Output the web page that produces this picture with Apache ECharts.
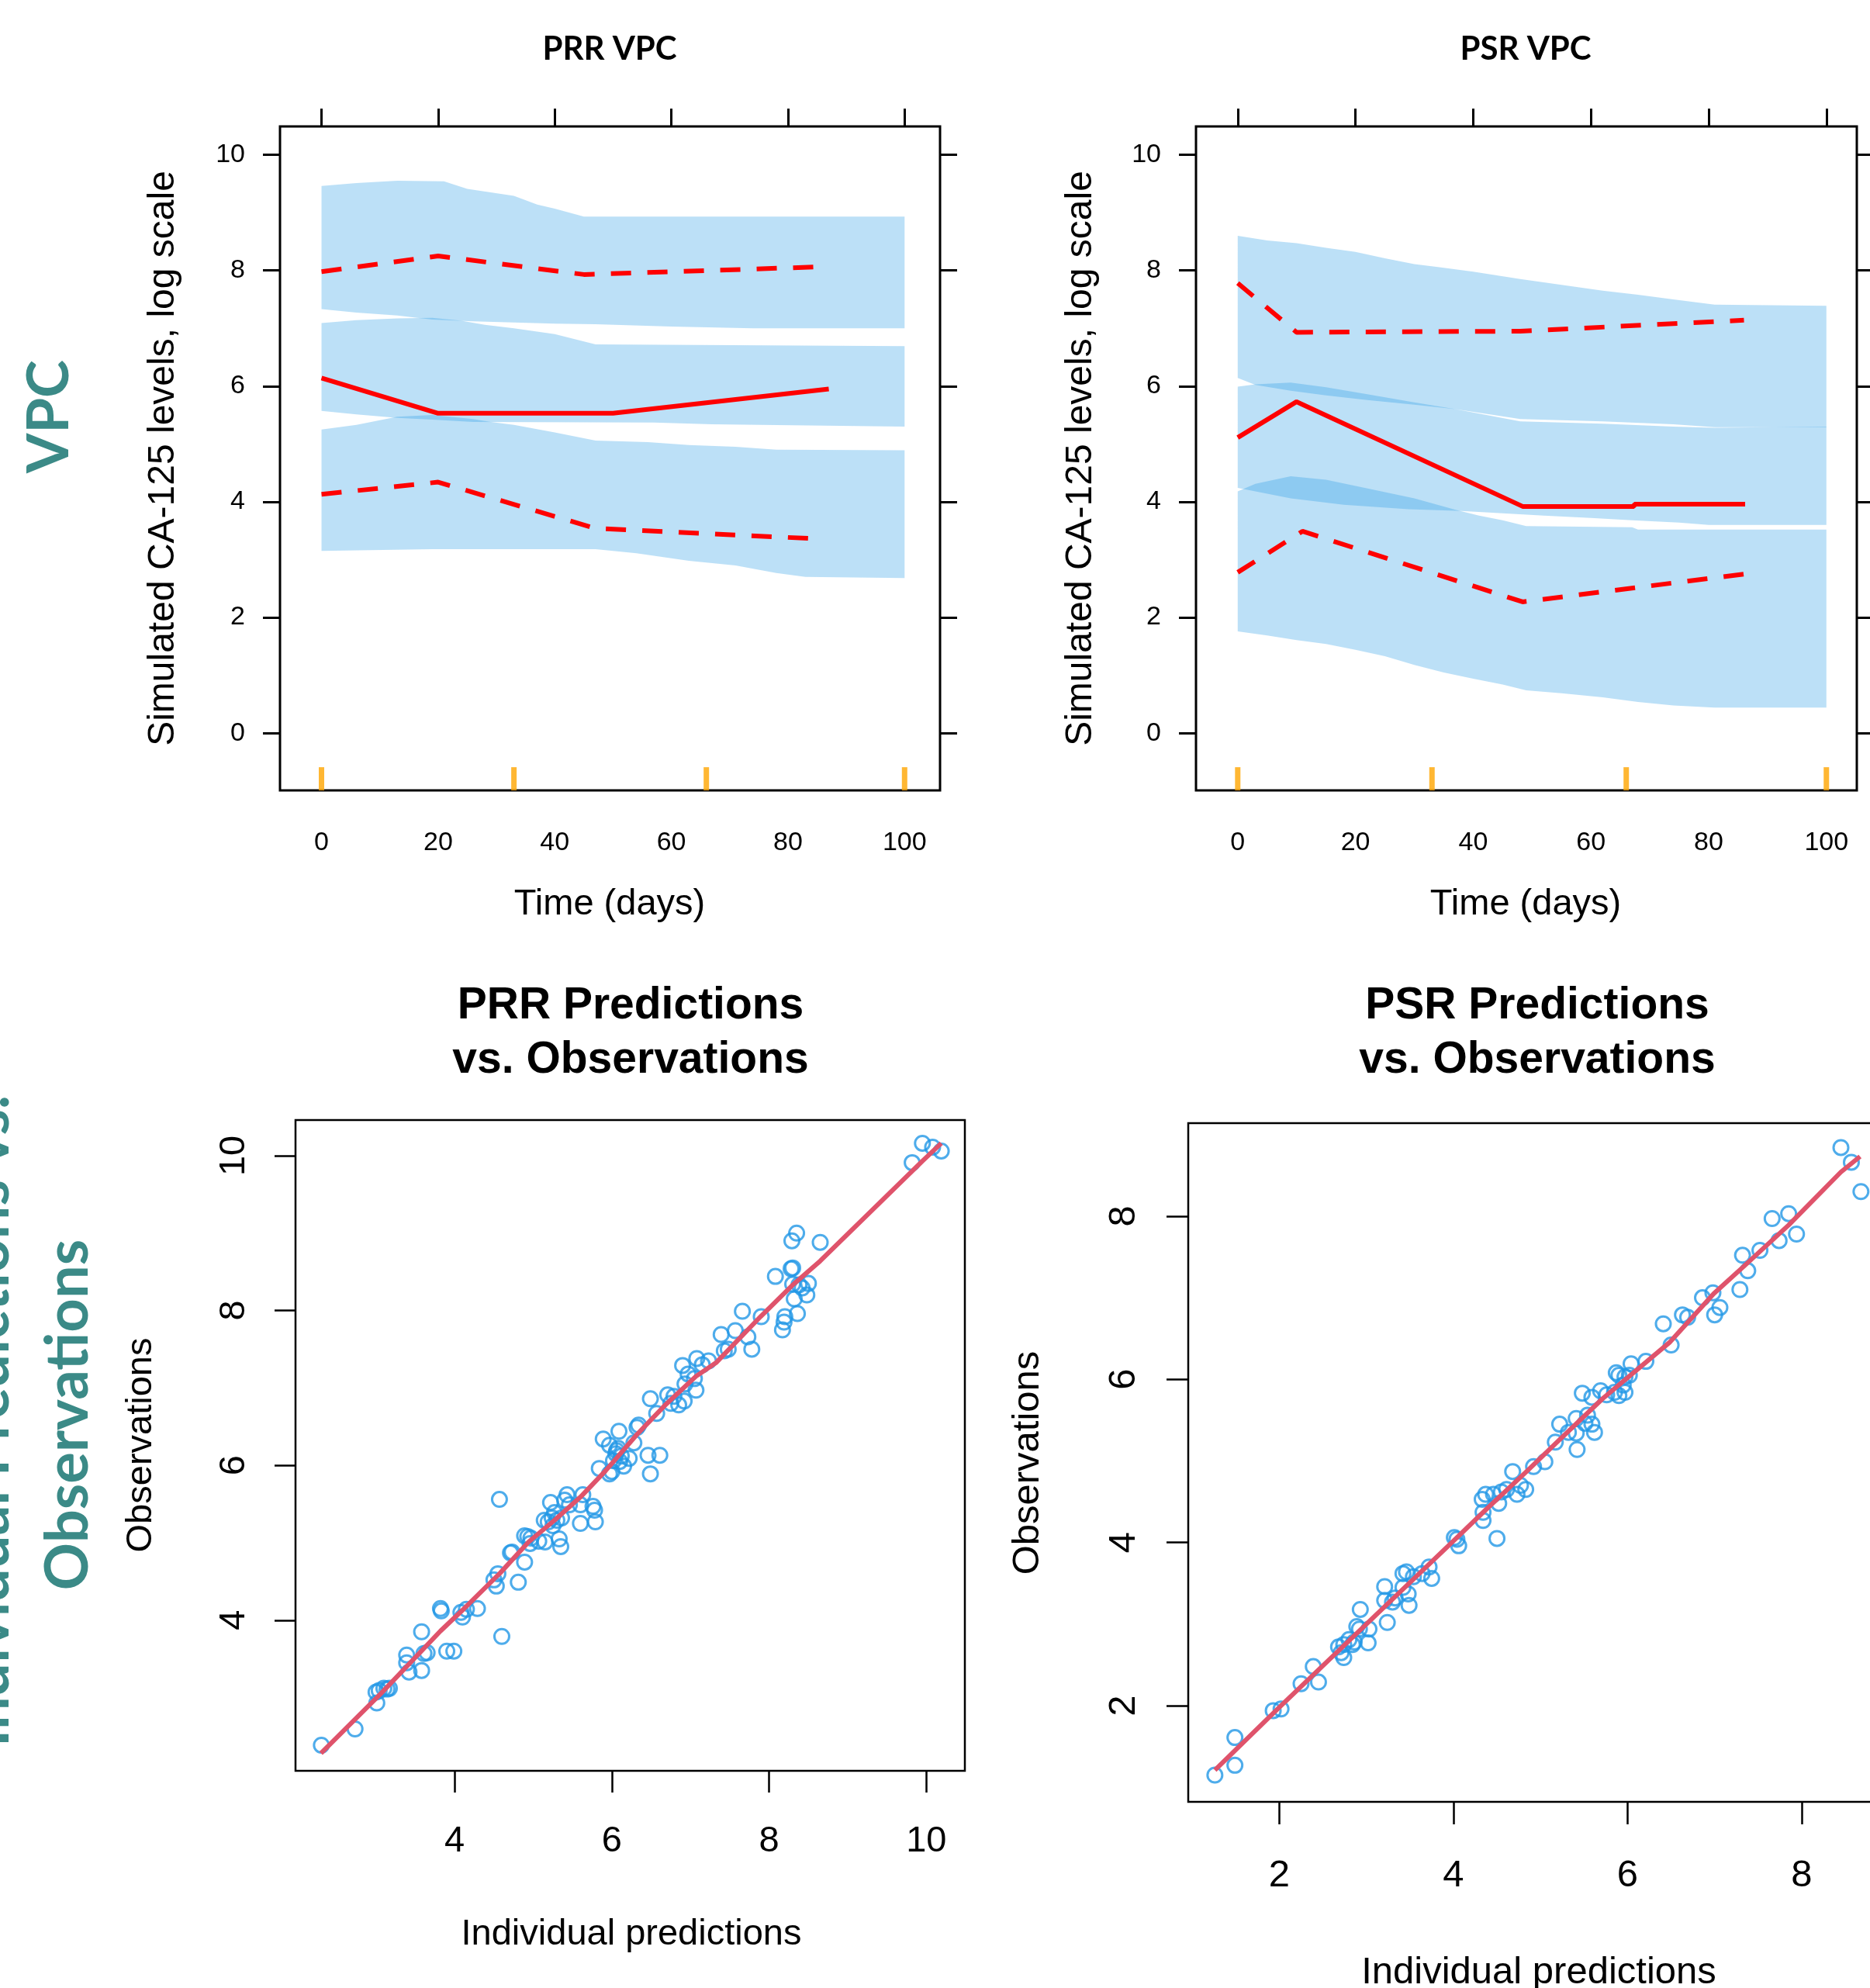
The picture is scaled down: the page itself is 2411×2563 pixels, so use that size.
<!DOCTYPE html>
<html>
<head>
<meta charset="utf-8">
<script src="https://cdn.jsdelivr.net/npm/echarts@6/dist/echarts.min.js"></script>
<style>
html,body{margin:0;padding:0;background:#fff;}
#chart{width:2411px;height:2563px;}
</style>
</head>
<body>
<div id="chart"></div>
<script>
// ---------- tick labels ----------
const vpcTicksX = [0, 20, 40, 60, 80, 100];
const vpcTicksY = [0, 2, 4, 6, 8, 10];
const prrScatterTicks = [4, 6, 8, 10];
const psrScatterTicks = [2, 4, 6, 8];
const binEdges = [0, 33, 66, 100];

// ---------- PRR VPC prediction-interval bands [time, value] ----------
const prrBandUpperTop = [[0,9.46],[6,9.51],[13,9.55],[21,9.54],[25,9.41],[33,9.29],[37,9.14],[40,9.07],[45,8.93],[100,8.93]];
const prrBandUpperBottom = [[0,7.33],[6,7.27],[13,7.22],[19,7.15],[26,7.12],[40,7.08],[47,7.07],[60,7.03],[74,7.0],[100,7.0]];
const prrBandMidTop = [[0,7.09],[6,7.14],[13,7.17],[19,7.18],[24,7.13],[28,7.06],[33,7.0],[40,6.9],[47,6.72],[100,6.69]];
const prrBandMidBottom = [[0,5.57],[6,5.51],[13,5.45],[19,5.42],[26,5.38],[57,5.37],[67,5.34],[100,5.30]];
const prrBandLowTop = [[0,5.25],[6,5.33],[13,5.47],[19,5.50],[26,5.43],[29,5.38],[33,5.33],[40,5.2],[47,5.06],[56,5.03],[63,4.98],[71,4.95],[78,4.9],[100,4.89]];
const prrBandLowBottom = [[0,3.15],[19,3.18],[47,3.18],[54,3.11],[63,2.98],[71,2.9],[78,2.77],[83,2.70],[100,2.68]];

// ---------- PSR VPC prediction-interval bands ----------
const psrBandUpperTop = [[0,8.60],[5,8.52],[10,8.47],[15,8.39],[20,8.32],[25,8.21],[30,8.11],[34,8.06],[40,7.98],[48,7.85],[55,7.75],[62,7.65],[68,7.58],[74,7.50],[81,7.41],[100,7.39]];
const psrBandUpperBottom = [[0,6.14],[3,6.02],[9,5.92],[15,5.84],[22,5.76],[30,5.68],[37,5.60],[48,5.43],[62,5.39],[74,5.34],[81,5.29],[100,5.29]];
const psrBandMidTop = [[0,5.99],[3,6.03],[9,6.06],[15,5.98],[22,5.86],[30,5.72],[37,5.60],[48,5.39],[62,5.35],[74,5.30],[81,5.28],[100,5.30]];
const psrBandMidBottom = [[0,4.24],[9,4.06],[18,3.95],[29,3.87],[38,3.84],[45,3.80],[52,3.76],[60,3.72],[67,3.68],[75,3.64],[80,3.60],[100,3.60]];
const psrBandLowTop = [[0,4.18],[3,4.31],[9,4.44],[15,4.38],[23,4.21],[30,4.06],[37,3.86],[41,3.76],[45,3.68],[49,3.58],[67,3.56],[68,3.52],[100,3.52]];
const psrBandLowBottom = [[0,1.76],[5,1.69],[10,1.61],[15,1.54],[20,1.44],[25,1.33],[30,1.18],[35,1.05],[40,0.94],[45,0.84],[49,0.74],[55,0.69],[62,0.62],[68,0.54],[74,0.48],[81,0.44],[100,0.44]];

// ---------- observed percentile lines ----------
const prrMedian = [[0,6.14],[20,5.53],[50,5.53],[87,5.95]];
const prrUpperPct = [[0,7.98],[20,8.25],[45,7.93],[85,8.06]];
const prrLowerPct = [[0,4.13],[20,4.34],[47,3.54],[85,3.36]];
const psrMedian = [[0,5.11],[10,5.73],[48.4,3.92],[67.3,3.92],[67.4,3.96],[86.2,3.96]];
const psrUpperPct = [[0,7.78],[10,6.93],[48,6.95],[86,7.14]];
const psrLowerPct = [[0,2.78],[11,3.49],[48.4,2.27],[86,2.75]];

// ---------- PRR individual predictions vs observations ----------
const prrPoints = [
[2.305,2.385],[2.733,2.595],[3.0,3.07],[3.04,3.09],[3.10,3.12],[3.14,3.11],[3.17,3.12],[3.01,2.93],
[3.39,3.55],[3.39,3.45],[3.42,3.33],[3.58,3.35],[3.58,3.85],[3.61,3.57],[3.65,3.58],
[3.90,3.60],[3.99,3.60],[3.82,4.15],[3.83,4.12],[4.08,4.10],[4.10,4.04],[4.15,4.14],[4.29,4.15],
[4.60,3.79],[4.57,5.56],[4.50,4.52],[4.55,4.60],[4.53,4.44],[4.81,4.49],[4.71,4.87],[4.73,4.88],[4.89,4.75],
[4.89,5.09],[4.93,5.08],[4.97,5.06],[5.07,5.02],[5.15,5.01],[4.96,4.99],
[5.22,5.52],[5.27,5.39],[5.19,5.27],[5.30,5.29],[5.36,5.32],[5.43,5.62],[5.40,5.55],[5.46,5.49],[5.63,5.62],[5.60,5.49],
[5.76,5.47],[5.78,5.42],[5.60,5.25],[5.79,5.27],[5.33,5.05],[5.35,4.95],[5.25,5.22],[5.14,5.29],[5.24,5.32],
[5.89,6.34],[6.09,6.44],[5.97,6.26],[6.06,6.19],[6.12,6.12],[6.02,6.06],[5.84,5.96],[5.97,5.89],[6.15,5.99],[6.22,6.09],
[6.32,6.49],[6.28,6.29],[6.05,6.15],[6.10,6.05],[6.0,5.92],[6.08,6.22],
[6.46,6.13],[6.61,6.13],[6.49,5.89],[6.57,6.67],[6.49,6.86],[6.34,6.52],
[6.71,6.91],[6.79,6.89],[6.85,6.78],[6.92,6.83],[6.75,6.80],
[6.90,7.29],[7.08,7.38],[7.23,7.35],[6.97,7.18],[7.15,7.30],[7.05,7.12],[6.93,7.05],[7.07,6.97],
[7.66,7.99],[7.90,7.92],[7.39,7.69],[7.57,7.74],[7.73,7.66],[7.78,7.50],[7.43,7.48],[7.48,7.50],
[8.35,9.0],[8.29,8.9],[8.65,8.88],[8.28,8.54],[8.30,8.55],[8.08,8.44],[8.30,8.34],[8.38,8.33],[8.42,8.29],[8.50,8.35],
[8.48,8.20],[8.32,8.15],[8.36,7.96],[8.20,7.92],[8.19,7.85],[8.17,7.75],
[9.95,10.16],[10.08,10.11],[10.19,10.06],[9.82,9.91]
];
const prrSmooth = [[2.3,2.28],[3.06,3.05],[3.82,3.86],[4.08,4.11],[4.58,4.61],[4.94,5.01],[5.27,5.29],[5.6,5.59],[5.92,5.93],[6.32,6.4],[6.67,6.77],[7.07,7.15],[7.33,7.33],[7.89,7.92],[8.29,8.32],[8.65,8.64],[9.95,9.93],[10.19,10.16]];

// ---------- PSR individual predictions vs observations ----------
const psrPoints = [
[1.26,1.15],[1.49,1.61],[1.49,1.27],[1.93,1.94],[2.02,1.96],[2.25,2.27],[2.39,2.48],[2.45,2.29],
[2.68,2.72],[2.74,2.75],[2.71,2.65],[2.74,2.59],[2.86,2.78],[2.89,2.97],[2.92,2.94],[2.93,3.18],[3.03,2.94],[3.02,2.77],[3.24,3.02],[2.80,2.81],[2.84,2.75],
[3.21,3.46],[3.21,3.29],[3.30,3.27],[3.42,3.62],[3.46,3.64],[3.42,3.45],[3.48,3.37],[3.49,3.23],[3.33,3.32],[3.64,3.62],[3.72,3.70],[3.75,3.56],[3.54,3.58],
[4.04,4.04],[4.06,3.96],[4.01,4.06],
[4.33,4.53],[4.37,4.59],[4.34,4.37],[4.34,4.27],[4.52,4.48],[4.55,4.62],[4.50,4.05],[4.46,4.59],[4.61,4.65],[4.73,4.59],
[4.68,4.87],[4.77,4.70],[4.83,4.65],[4.92,4.93],[5.05,4.99],
[5.54,5.56],[5.51,5.46],[5.41,5.52],[5.22,5.45],[5.32,5.35],[5.41,5.34],[5.62,5.35],[5.17,5.23],[5.42,5.14],[5.59,5.45],
[5.87,6.08],[5.90,6.05],[5.97,6.03],[6.02,6.05],[5.95,5.93],[5.85,5.84],[5.97,5.84],[5.76,5.81],[5.69,5.86],[5.48,5.83],[5.59,5.78],[5.90,5.80],
[6.21,6.22],[6.04,6.19],[6.41,6.68],[6.50,6.42],[6.63,6.79],[6.69,6.76],
[6.86,7.0],[6.98,7.06],[7.06,6.88],[7.0,6.79],[7.32,7.52],[7.52,7.58],[7.38,7.33],[7.29,7.10],
[7.66,7.97],[7.85,8.03],[7.74,7.70],[7.94,7.78],[8.45,8.84],[8.57,8.66],[8.68,8.30]
];
const psrSmooth = [[1.26,1.21],[2.0,1.98],[3.0,3.0],[4.0,4.02],[4.38,4.41],[4.83,4.86],[5.2,5.24],[5.71,5.76],[6.48,6.45],[6.99,7.05],[7.32,7.37],[7.85,7.89],[8.45,8.54],[8.67,8.73]];

// ---------- styling ----------
const BAND_FILL = 'rgba(34,151,230,0.3)';
const RED = '#FF0000';
const TEAL = '#3B8A87';
const PT_BLUE = '#2297E6';
const SMOOTH_RED = '#DF536B';

const prrBands = [[prrBandUpperTop, prrBandUpperBottom],[prrBandMidTop, prrBandMidBottom],[prrBandLowTop, prrBandLowBottom]];
const psrBands = [[psrBandUpperTop, psrBandUpperBottom],[psrBandMidTop, psrBandMidBottom],[psrBandLowTop, psrBandLowBottom]];

function bandSeries(bands, axisIdx) {
  return {
    type: 'custom', xAxisIndex: axisIdx, yAxisIndex: axisIdx, silent: true, z: 1,
    data: bands.map((b, i) => [i]),
    renderItem: function (params, api) {
      const b = bands[params.dataIndex];
      const pts = b[0].map(p => api.coord(p)).concat(b[1].slice().reverse().map(p => api.coord(p)));
      return { type: 'polygon', shape: { points: pts }, style: { fill: BAND_FILL } };
    }
  };
}
function redLine(data, axisIdx, dashed) {
  return {
    type: 'line', xAxisIndex: axisIdx, yAxisIndex: axisIdx, data: data, symbol: 'none', z: 3,
    lineStyle: { color: RED, width: 6, type: dashed ? [26, 21] : 'solid', cap: 'butt' }
  };
}
function binMarks(axisIdx) {
  return {
    type: 'scatter', xAxisIndex: axisIdx, yAxisIndex: axisIdx, z: 3,
    data: binEdges.map(x => [x, -0.79]), symbol: 'rect', symbolSize: [7, 30],
    itemStyle: { color: '#FFA500' }
  };
}

const vpcLabelFont = { fontFamily: 'Liberation Sans', fontSize: 34, color: '#000' };
const tickLine = { color: '#000', width: 3 };
const noLine = { show: false, onZero: false };

function vpcX(gridIndex, min, max) {
  return [
    { type: 'value', gridIndex, position: 'bottom', min, max,
      axisLine: noLine, splitLine: { show: false },
      axisTick: { show: false },
      axisLabel: Object.assign({ customValues: vpcTicksX, margin: 51 }, vpcLabelFont) },
    { type: 'value', gridIndex, position: 'top', min, max,
      axisLine: noLine, splitLine: { show: false },
      axisTick: { show: true, customValues: vpcTicksX, length: 23, lineStyle: tickLine },
      axisLabel: { show: false } }
  ];
}
function vpcY(gridIndex) {
  return [
    { type: 'value', gridIndex, position: 'left', min: -0.99, max: 10.49,
      axisLine: noLine, splitLine: { show: false },
      axisTick: { show: true, customValues: vpcTicksY, length: 22, lineStyle: tickLine },
      axisLabel: Object.assign({ customValues: vpcTicksY, margin: 45 }, vpcLabelFont) },
    { type: 'value', gridIndex, position: 'right', min: -0.99, max: 10.49,
      axisLine: noLine, splitLine: { show: false },
      axisTick: { show: true, customValues: vpcTicksY, length: 22, lineStyle: tickLine },
      axisLabel: { show: false } }
  ];
}
function scX(gridIndex, min, max, ticks, fs, tl, margin) {
  return { type: 'value', gridIndex, position: 'bottom', min, max,
    axisLine: noLine, splitLine: { show: false },
    axisTick: { show: true, customValues: ticks, length: tl, lineStyle: { color: '#000', width: 2.5 } },
    axisLabel: { customValues: ticks, margin: margin, fontFamily: 'Liberation Sans', fontSize: fs, color: '#000' } };
}
function scY(gridIndex, min, max, ticks, fs, tl, margin) {
  return { type: 'value', gridIndex, position: 'left', min, max,
    axisLine: noLine, splitLine: { show: false },
    axisTick: { show: true, customValues: ticks, length: tl, lineStyle: { color: '#000', width: 2.5 } },
    axisLabel: { customValues: ticks, rotate: 90, margin: margin, fontFamily: 'Liberation Sans', fontSize: fs, color: '#000' } };
}

const gridBase = { show: true, borderColor: '#000', backgroundColor: 'transparent', containLabel: false, outerBoundsMode: 'none' };

function txt(text, x, y, font, fill, rot) {
  return { type: 'text', x, y, rotation: rot || 0, silent: true, z: 10,
    style: { text, font, fill: fill || '#000', textAlign: 'center', textVerticalAlign: 'middle', align: 'center', verticalAlign: 'middle' } };
}

const chart = echarts.init(document.getElementById('chart'), null, { renderer: 'canvas' });
const R90 = Math.PI / 2;
chart.setOption({
  animation: false,
  backgroundColor: '#fff',
  grid: [
    Object.assign({ left: 361, top: 163, width: 851, height: 856, borderWidth: 3 }, gridBase),
    Object.assign({ left: 1542, top: 163, width: 852, height: 856, borderWidth: 3 }, gridBase),
    Object.assign({ left: 381, top: 1444, width: 863, height: 839, borderWidth: 2.5 }, gridBase),
    Object.assign({ left: 1532, top: 1448, width: 901, height: 875, borderWidth: 2.5 }, gridBase)
  ],
  xAxis: [].concat(
    vpcX(0, -7.12, 106.08),
    vpcX(1, -7.09, 105.17),
    [scX(2, 1.976, 10.49, prrScatterTicks, 47, 28, 68),
     scX(3, 0.954, 8.98, psrScatterTicks, 49, 29, 71)]
  ),
  yAxis: [].concat(
    vpcY(0),
    vpcY(1),
    [scY(2, 2.054, 10.46, prrScatterTicks, 47, 27, 55),
     scY(3, 0.822, 9.139, psrScatterTicks, 49, 28, 58)]
  ),
  series: [
    bandSeries(prrBands, 0),
    redLine(prrMedian, 0, false),
    redLine(prrUpperPct, 0, true),
    redLine(prrLowerPct, 0, true),
    binMarks(0),
    bandSeries(psrBands, 2),
    redLine(psrMedian, 2, false),
    redLine(psrUpperPct, 2, true),
    redLine(psrLowerPct, 2, true),
    binMarks(2),
    { type: 'scatter', xAxisIndex: 4, yAxisIndex: 4, data: prrPoints, symbol: 'circle', symbolSize: 19, z: 2,
      itemStyle: { color: 'rgba(0,0,0,0)', borderColor: PT_BLUE, borderWidth: 3 } },
    { type: 'line', xAxisIndex: 4, yAxisIndex: 4, data: prrSmooth, symbol: 'none', z: 3,
      lineStyle: { color: SMOOTH_RED, width: 6 } },
    { type: 'scatter', xAxisIndex: 5, yAxisIndex: 5, data: psrPoints, symbol: 'circle', symbolSize: 19, z: 2,
      itemStyle: { color: 'rgba(0,0,0,0)', borderColor: PT_BLUE, borderWidth: 3 } },
    { type: 'line', xAxisIndex: 5, yAxisIndex: 5, data: psrSmooth, symbol: 'none', z: 3,
      lineStyle: { color: SMOOTH_RED, width: 6 } }
  ],
  graphic: [
    txt('PRR VPC', 786, 63, 'bold 42px Lato', '#000'),
    txt('PSR VPC', 1967, 63, 'bold 42px Lato', '#000'),
    txt('Time (days)', 786, 1166, '47px "Liberation Sans"', '#000'),
    txt('Time (days)', 1967, 1166, '47px "Liberation Sans"', '#000'),
    txt('Simulated CA-125 levels, log scale', 211, 591, '48px "Liberation Sans"', '#000', R90),
    txt('Simulated CA-125 levels, log scale', 1394, 591, '48px "Liberation Sans"', '#000', R90),
    txt('PRR Predictions', 813, 1297, 'bold 57px "Liberation Sans"', '#000'),
    txt('vs. Observations', 813, 1367, 'bold 57px "Liberation Sans"', '#000'),
    txt('PSR Predictions', 1982, 1297, 'bold 57px "Liberation Sans"', '#000'),
    txt('vs. Observations', 1982, 1367, 'bold 57px "Liberation Sans"', '#000'),
    txt('Individual predictions', 814, 2494, '47px "Liberation Sans"', '#000'),
    txt('Observations', 182, 1863, '47px "Liberation Sans"', '#000', R90),
    txt('Individual predictions', 1984, 2543, '49px "Liberation Sans"', '#000'),
    txt('Observations', 1325, 1886, '49px "Liberation Sans"', '#000', R90),
    txt('VPC', 64, 537, 'bold 74px Lato', TEAL, R90),
    txt('Observations', 88, 1824, 'bold 76px Lato', TEAL, R90),
    txt('Individual Predictions vs.', -14, 1832, 'bold 76px Lato', TEAL, R90)
  ]
});
</script>
</body>
</html>
